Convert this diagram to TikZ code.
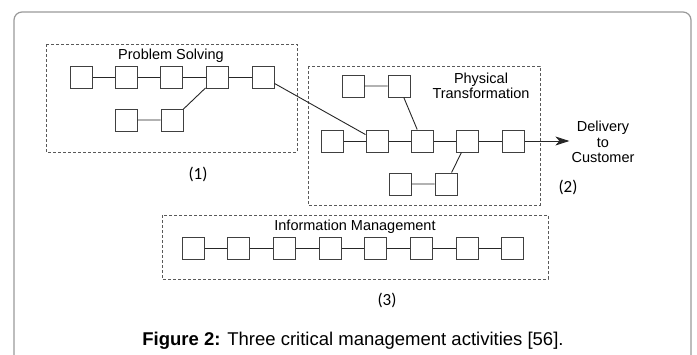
\documentclass[tikz,border=0pt]{standalone}
\usepackage{fontspec}
\setmainfont{Liberation Sans}
\newfontfamily\tagfont{Carlito}
\usetikzlibrary{arrows.meta}

\begin{document}
\begin{tikzpicture}[x=1pt,y=-1pt,
	blk/.style={draw=black!75, line width=1pt, fill=white, minimum size=22pt, inner sep=0pt},
	area/.style={draw=black!65, dash pattern=on 3pt off 2pt, line width=0.9pt},
	link/.style={draw=black!85, line width=0.9pt},
	title/.style={font=\fontsize{14.5}{15.5}\selectfont, align=center, inner sep=2pt},
	tag/.style={font=\tagfont\fontsize{17}{19}\selectfont}]
	\useasboundingbox (0,0) rectangle (697,354);

	% Page frame
	\draw[black!40, line width=1.2pt, rounded corners=8pt] (14,12) rectangle (691,390);

	% Dashed areas
	\draw[area] (46,44) rectangle (297,152);
	\draw[area] (308,66) rectangle (540,205);
	\draw[area] (162,215) rectangle (548,279);

	% Area titles
	\node[title, anchor=base] (pstitle) at (171,59) {Problem Solving};
	\node[title] (pttitle) at (481,86) {Physical\\Transformation};
	\node[title, anchor=base] (imtitle) at (355,230) {Information Management};

	% Problem solving blocks
	\node[blk] (p1) at (81,77) {};
	\node[blk] (p2) at (126,77) {};
	\node[blk] (p3) at (171,77) {};
	\node[blk] (p4) at (217,77) {};
	\node[blk] (p5) at (263,77) {};
	\node[blk] (q1) at (126,120) {};
	\node[blk] (q2) at (172,120) {};

	% Physical transformation blocks
	\node[blk] (t1) at (353,86) {};
	\node[blk] (t2) at (399,86) {};
	\node[blk] (m1) at (332,141) {};
	\node[blk] (m2) at (377,141) {};
	\node[blk] (m3) at (422,141) {};
	\node[blk] (m4) at (467,141) {};
	\node[blk] (m5) at (513,141) {};
	\node[blk] (b1) at (400,184) {};
	\node[blk] (b2) at (446,184) {};

	% Information management blocks
	\foreach \i in {1,...,8}
		\node[blk] (i\i) at ({193+45.7*(\i-1)},248) {};

	% Links
	\draw[link] (p1) -- (p2) -- (p3) -- (p4) -- (p5);
	\draw[link] (q1) -- (q2) -- (p4);
	\draw[link] (p5) -- (m2);
	\draw[link] (t1) -- (t2) -- (m3);
	\draw[link] (m1) -- (m2) -- (m3) -- (m4) -- (m5);
	\draw[link] (b1) -- (b2) -- (m4);
	\foreach \i [count=\j from 2] in {1,...,7}
		\draw[link] (i\i) -- (i\j);

	% Delivery
	\node[title] (cust) at (603,142) {Delivery\\to\\Customer};
	\draw[link, -{Stealth[length=14pt, width=9pt, inset=4pt]}] (m5) -- (m5 -| cust.west);

	% Area numbers
	\node[tag] (n1) at (198,174) {(1)};
	\node[tag] (n2) at (568,187) {(2)};
	\node[tag] (n3) at (387,300) {(3)};

	% Caption
	\node[anchor=base, font=\fontsize{18.5}{20}\selectfont] (cap) at (353,345)
		{\textbf{Figure 2:} Three critical management activities [56].};

\end{tikzpicture}
\end{document}
